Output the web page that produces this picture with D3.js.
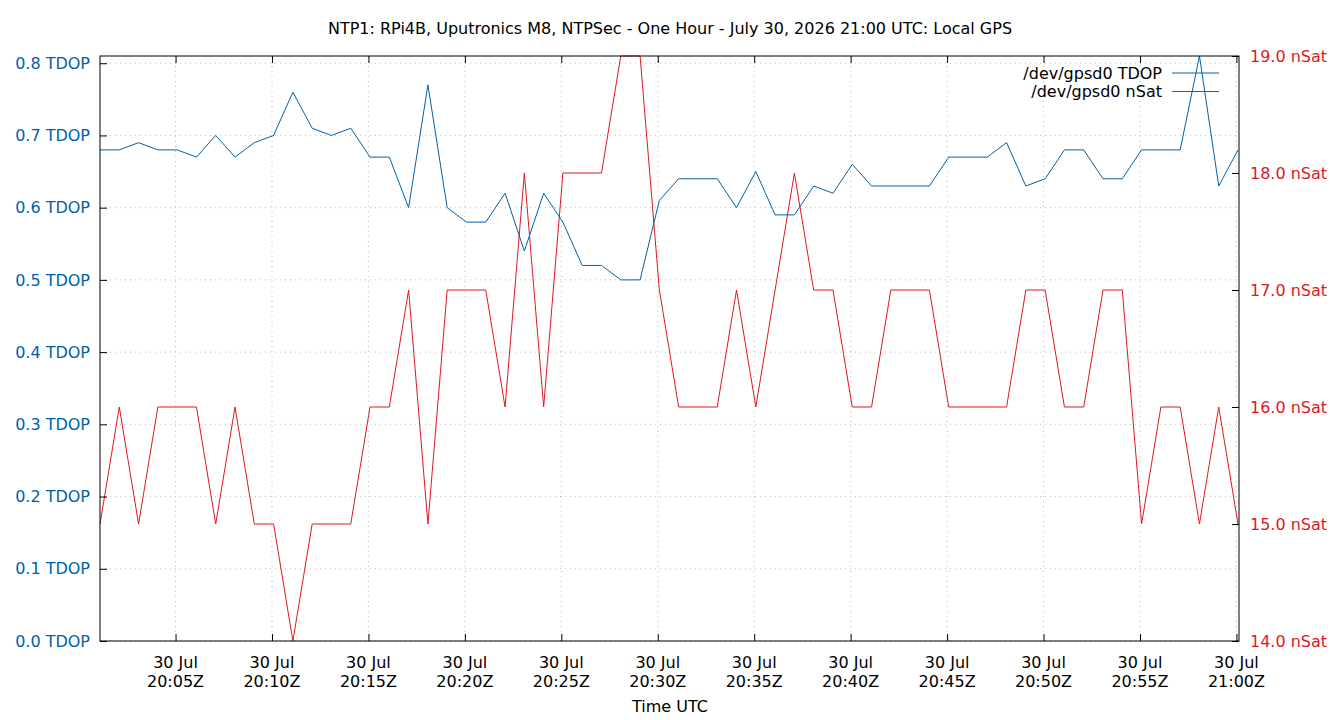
<!DOCTYPE html>
<html>
<head>
<meta charset="utf-8">
<script src="https://cdn.jsdelivr.net/npm/d3@7"></script>
<style>
  body { margin: 0; background: #fff; }
  svg { display: block; font-family: "DejaVu Sans", sans-serif; }
</style>
</head>
<body>
<svg id="chart" width="1340" height="720"></svg>
<script>
// sample times (UTC), one per minute
const times = [
  "20:01:05","20:02:05","20:03:05","20:04:05","20:05:05","20:06:05","20:07:05","20:08:05","20:09:05","20:10:05",
  "20:11:05","20:12:05","20:13:05","20:14:05","20:15:05","20:16:05","20:17:05","20:18:05","20:19:05","20:20:05",
  "20:21:05","20:22:05","20:23:05","20:24:05","20:25:05","20:26:05","20:27:05","20:28:05","20:29:05","20:30:05",
  "20:31:05","20:32:05","20:33:05","20:34:05","20:35:05","20:36:05","20:37:05","20:38:05","20:39:05","20:40:05",
  "20:41:05","20:42:05","20:43:05","20:44:05","20:45:05","20:46:05","20:47:05","20:48:05","20:49:05","20:50:05",
  "20:51:05","20:52:05","20:53:05","20:54:05","20:55:05","20:56:05","20:57:05","20:58:05","20:59:05","21:00:05"
];

const tdop = [
  0.68, 0.68, 0.69, 0.68, 0.68, 0.67, 0.70, 0.67, 0.69, 0.70,
  0.76, 0.71, 0.70, 0.71, 0.67, 0.67, 0.60, 0.77, 0.60, 0.58,
  0.58, 0.62, 0.54, 0.62, 0.58, 0.52, 0.52, 0.50, 0.50, 0.61,
  0.64, 0.64, 0.64, 0.60, 0.65, 0.59, 0.59, 0.63, 0.62, 0.66,
  0.63, 0.63, 0.63, 0.63, 0.67, 0.67, 0.67, 0.69, 0.63, 0.64,
  0.68, 0.68, 0.64, 0.64, 0.68, 0.68, 0.68, 0.81, 0.63, 0.68
];

const nsat = [
  15, 16, 15, 16, 16, 16, 15, 16, 15, 15,
  14, 15, 15, 15, 16, 16, 17, 15, 17, 17,
  17, 16, 18, 16, 18, 18, 18, 19, 19, 17,
  16, 16, 16, 17, 16, 17, 18, 17, 17, 16,
  16, 17, 17, 17, 16, 16, 16, 16, 17, 17,
  16, 16, 17, 17, 15, 16, 16, 15, 16, 15
];

const tdopTicks = [0, 0.1, 0.2, 0.3, 0.4, 0.5, 0.6, 0.7, 0.8];
const nsatTicks = [14, 15, 16, 17, 18, 19];

const title = "NTP1: RPi4B, Uputronics M8, NTPSec - One Hour - July 30, 2026 21:00 UTC: Local GPS";
const blue = "#0060ad";
const red = "#dd181f";

const day = "2026-07-30T";
const parse = d3.utcParse("%Y-%m-%dT%H:%M:%S");
const data = times.map((t, i) => ({ t: parse(day + t), tdop: tdop[i], nsat: nsat[i] }));

const margin = { top: 56, right: 101, bottom: 79, left: 100 };
const width = 1340, height = 720;
const innerWidth = width - margin.left - margin.right;
const innerHeight = height - margin.top - margin.bottom;

const svg = d3.select("#chart");
const g = svg.append("g").attr("transform", `translate(${margin.left},${margin.top})`);

const x = d3.scaleUtc()
  .domain([parse(day + "20:01:05"), parse(day + "21:00:08")])
  .range([0, innerWidth]);
const yL = d3.scaleLinear().domain([0, 0.81]).range([innerHeight, 0]);
const yR = d3.scaleLinear().domain([14, 19]).range([innerHeight, 0]);

const xTicks = d3.utcMinute.every(5).range(parse(day + "20:05:00"), parse(day + "21:00:01"));

// grid
g.append("g")
  .selectAll("line")
  .data(xTicks)
  .join("line")
  .attr("x1", d => x(d)).attr("x2", d => x(d))
  .attr("y1", 0).attr("y2", innerHeight)
  .attr("stroke", "#bbb").attr("stroke-dasharray", "1,4");

g.append("g")
  .selectAll("line")
  .data(tdopTicks)
  .join("line")
  .attr("x1", 0).attr("x2", innerWidth)
  .attr("y1", d => yL(d)).attr("y2", d => yL(d))
  .attr("stroke", "#bbb").attr("stroke-dasharray", "1,4");

// lines
const lineT = d3.line().x(d => x(d.t)).y(d => yL(d.tdop));
const lineN = d3.line().x(d => x(d.t)).y(d => yR(d.nsat));

g.append("path").datum(data)
  .attr("fill", "none").attr("stroke", red).attr("stroke-width", 1)
  .attr("d", lineN);
g.append("path").datum(data)
  .attr("fill", "none").attr("stroke", blue).attr("stroke-width", 1)
  .attr("d", lineT);

// axes (ticks inward, gnuplot style)
const fmtDay = d3.utcFormat("%d %b");
const fmtTime = d3.utcFormat("%H:%MZ");

const xAxis = g.append("g")
  .attr("transform", `translate(0,${innerHeight})`)
  .call(d3.axisBottom(x).tickValues(xTicks).tickSizeInner(-7).tickSizeOuter(0).tickFormat(""));
xAxis.select(".domain").remove();

// two-line time labels
const xLab = g.append("g")
  .attr("font-size", 16)
  .attr("text-anchor", "middle")
  .attr("fill", "#000");
xLab.selectAll("text.day")
  .data(xTicks)
  .join("text")
  .attr("class", "day")
  .attr("x", d => x(d))
  .attr("y", innerHeight + 27)
  .text(d => fmtDay(d));
xLab.selectAll("text.time")
  .data(xTicks)
  .join("text")
  .attr("class", "time")
  .attr("x", d => x(d))
  .attr("y", innerHeight + 46)
  .text(d => fmtTime(d));

const xTop = g.append("g")
  .call(d3.axisTop(x).tickValues(xTicks).tickSizeInner(-7).tickSizeOuter(0).tickFormat(""));
xTop.select(".domain").remove();

const leftAxis = g.append("g")
  .call(d3.axisLeft(yL).tickValues(tdopTicks).tickSizeInner(-7).tickSizeOuter(0)
    .tickPadding(10).tickFormat(d => d3.format(".1f")(d) + " TDOP"));
leftAxis.select(".domain").remove();
leftAxis.attr("font-size", 16).attr("font-family", "DejaVu Sans, sans-serif");
leftAxis.selectAll("text").attr("fill", blue);

const rightAxis = g.append("g")
  .attr("transform", `translate(${innerWidth},0)`)
  .call(d3.axisRight(yR).tickValues(nsatTicks).tickSizeInner(-7).tickSizeOuter(0)
    .tickPadding(11).tickFormat(d => d3.format(".1f")(d) + " nSat"));
rightAxis.select(".domain").remove();
rightAxis.attr("font-size", 16).attr("font-family", "DejaVu Sans, sans-serif");
rightAxis.selectAll("text").attr("fill", red);

// border
g.append("rect")
  .attr("width", innerWidth).attr("height", innerHeight)
  .attr("fill", "none").attr("stroke", "#000").attr("stroke-width", 1);

// title + axis title
svg.append("text")
  .attr("x", width / 2).attr("y", 34)
  .attr("text-anchor", "middle").attr("font-size", 16)
  .text(title);

svg.append("text")
  .attr("x", width / 2).attr("y", 712)
  .attr("text-anchor", "middle").attr("font-size", 16)
  .text("Time UTC");

// legend
const legendItems = [
  { name: "/dev/gpsd0 TDOP", color: blue },
  { name: "/dev/gpsd0 nSat", color: red }
];
const legend = svg.append("g")
  .selectAll("g")
  .data(legendItems)
  .join("g")
  .attr("transform", (d, i) => `translate(1162,${73 + i * 18.5})`);
legend.append("text")
  .attr("text-anchor", "end").attr("dy", "0.35em").attr("font-size", 16)
  .text(d => d.name);
legend.append("line")
  .attr("x1", 10).attr("x2", 57)
  .attr("stroke", d => d.color).attr("stroke-width", 1);
</script>
</body>
</html>
